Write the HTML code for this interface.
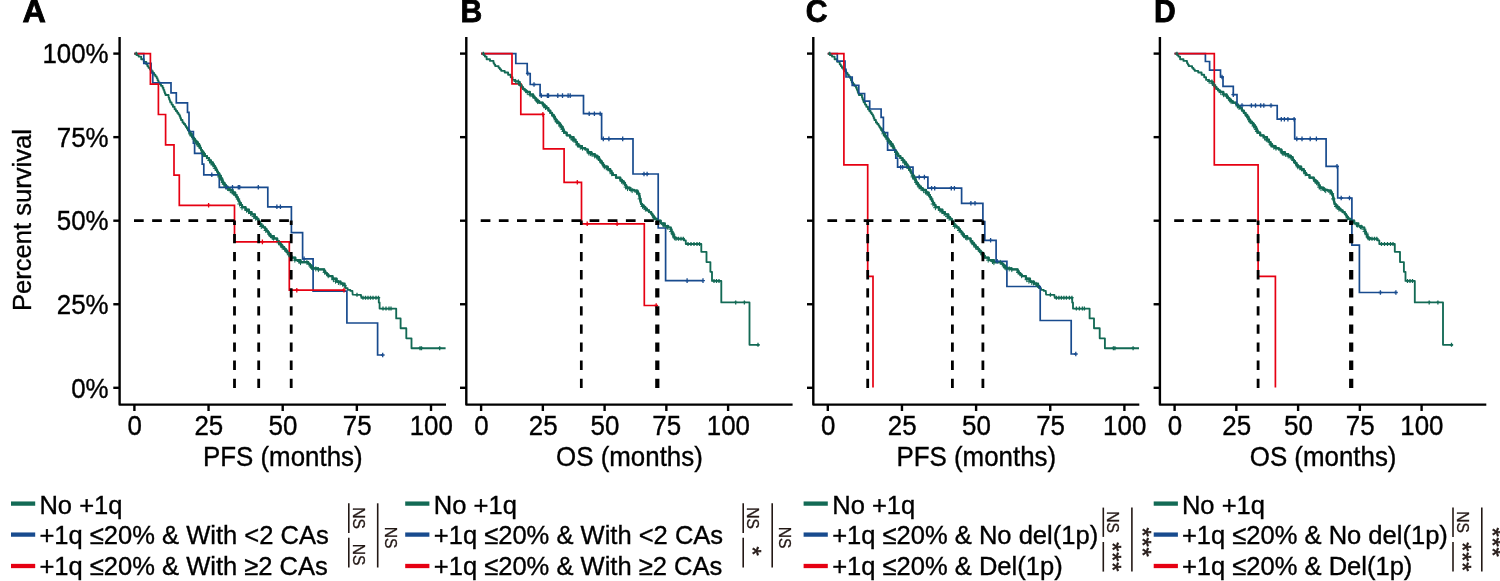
<!DOCTYPE html><html><head><meta charset="utf-8"><style>html,body{margin:0;padding:0;background:#fff;overflow:hidden}svg{display:block;will-change:transform}</style></head><body>
<svg width="1500" height="581" viewBox="0 0 1500 581" font-family='"Liberation Sans", sans-serif'>
<rect width="1500" height="581" fill="#fff"/>
<text transform="translate(22.50,21.50) scale(1.065,1.04)" font-size="30.4" font-weight="bold" fill="#000" stroke="#000" stroke-width="0.8">A</text>
<text transform="translate(460.45,21.50) scale(0.99,1.04)" font-size="30.4" font-weight="bold" fill="#000" stroke="#000" stroke-width="0.8">B</text>
<text transform="translate(805.65,21.50) scale(0.99,1.04)" font-size="30.4" font-weight="bold" fill="#000" stroke="#000" stroke-width="0.8">C</text>
<text transform="translate(1153.90,21.50) scale(0.99,1.04)" font-size="30.4" font-weight="bold" fill="#000" stroke="#000" stroke-width="0.8">D</text>
<path d="M119.6,37.0 V404.6 H446.0" fill="none" stroke="#000" stroke-width="2.4" stroke-linejoin="round"/>
<line x1="113.3" y1="387.80" x2="119.6" y2="387.80" stroke="#000" stroke-width="2.4"/>
<line x1="113.3" y1="304.25" x2="119.6" y2="304.25" stroke="#000" stroke-width="2.4"/>
<line x1="113.3" y1="220.70" x2="119.6" y2="220.70" stroke="#000" stroke-width="2.4"/>
<line x1="113.3" y1="137.15" x2="119.6" y2="137.15" stroke="#000" stroke-width="2.4"/>
<line x1="113.3" y1="53.60" x2="119.6" y2="53.60" stroke="#000" stroke-width="2.4"/>
<line x1="134.40" y1="404.6" x2="134.40" y2="411.0" stroke="#000" stroke-width="2.4"/>
<text transform="translate(134.70,435.10) scale(1.0,1.04)" font-size="25.9" text-anchor="middle" fill="#000" stroke="#000" stroke-width="0.35">0</text>
<line x1="208.55" y1="404.6" x2="208.55" y2="411.0" stroke="#000" stroke-width="2.4"/>
<text transform="translate(208.85,435.10) scale(1.0,1.04)" font-size="25.9" text-anchor="middle" fill="#000" stroke="#000" stroke-width="0.35">25</text>
<line x1="282.70" y1="404.6" x2="282.70" y2="411.0" stroke="#000" stroke-width="2.4"/>
<text transform="translate(283.00,435.10) scale(1.0,1.04)" font-size="25.9" text-anchor="middle" fill="#000" stroke="#000" stroke-width="0.35">50</text>
<line x1="356.85" y1="404.6" x2="356.85" y2="411.0" stroke="#000" stroke-width="2.4"/>
<text transform="translate(357.15,435.10) scale(1.0,1.04)" font-size="25.9" text-anchor="middle" fill="#000" stroke="#000" stroke-width="0.35">75</text>
<line x1="431.00" y1="404.6" x2="431.00" y2="411.0" stroke="#000" stroke-width="2.4"/>
<text transform="translate(431.30,435.10) scale(1.0,1.04)" font-size="25.9" text-anchor="middle" fill="#000" stroke="#000" stroke-width="0.35">100</text>
<text transform="translate(282.80,466.00) scale(1.0,1.04)" font-size="25.9" text-anchor="middle" fill="#000" stroke="#000" stroke-width="0.35">PFS (months)</text>
<path d="M466.3,37.0 V404.6 H792.6" fill="none" stroke="#000" stroke-width="2.4" stroke-linejoin="round"/>
<line x1="460.0" y1="387.80" x2="466.3" y2="387.80" stroke="#000" stroke-width="2.4"/>
<line x1="460.0" y1="304.25" x2="466.3" y2="304.25" stroke="#000" stroke-width="2.4"/>
<line x1="460.0" y1="220.70" x2="466.3" y2="220.70" stroke="#000" stroke-width="2.4"/>
<line x1="460.0" y1="137.15" x2="466.3" y2="137.15" stroke="#000" stroke-width="2.4"/>
<line x1="460.0" y1="53.60" x2="466.3" y2="53.60" stroke="#000" stroke-width="2.4"/>
<line x1="481.10" y1="404.6" x2="481.10" y2="411.0" stroke="#000" stroke-width="2.4"/>
<text transform="translate(481.40,435.10) scale(1.0,1.04)" font-size="25.9" text-anchor="middle" fill="#000" stroke="#000" stroke-width="0.35">0</text>
<line x1="542.85" y1="404.6" x2="542.85" y2="411.0" stroke="#000" stroke-width="2.4"/>
<text transform="translate(543.15,435.10) scale(1.0,1.04)" font-size="25.9" text-anchor="middle" fill="#000" stroke="#000" stroke-width="0.35">25</text>
<line x1="604.60" y1="404.6" x2="604.60" y2="411.0" stroke="#000" stroke-width="2.4"/>
<text transform="translate(604.90,435.10) scale(1.0,1.04)" font-size="25.9" text-anchor="middle" fill="#000" stroke="#000" stroke-width="0.35">50</text>
<line x1="666.35" y1="404.6" x2="666.35" y2="411.0" stroke="#000" stroke-width="2.4"/>
<text transform="translate(666.65,435.10) scale(1.0,1.04)" font-size="25.9" text-anchor="middle" fill="#000" stroke="#000" stroke-width="0.35">75</text>
<line x1="728.10" y1="404.6" x2="728.10" y2="411.0" stroke="#000" stroke-width="2.4"/>
<text transform="translate(728.40,435.10) scale(1.0,1.04)" font-size="25.9" text-anchor="middle" fill="#000" stroke="#000" stroke-width="0.35">100</text>
<text transform="translate(629.45,466.00) scale(1.0,1.04)" font-size="25.9" text-anchor="middle" fill="#000" stroke="#000" stroke-width="0.35">OS (months)</text>
<path d="M813.3,37.0 V404.6 H1139.3" fill="none" stroke="#000" stroke-width="2.4" stroke-linejoin="round"/>
<line x1="807.0" y1="387.80" x2="813.3" y2="387.80" stroke="#000" stroke-width="2.4"/>
<line x1="807.0" y1="304.25" x2="813.3" y2="304.25" stroke="#000" stroke-width="2.4"/>
<line x1="807.0" y1="220.70" x2="813.3" y2="220.70" stroke="#000" stroke-width="2.4"/>
<line x1="807.0" y1="137.15" x2="813.3" y2="137.15" stroke="#000" stroke-width="2.4"/>
<line x1="807.0" y1="53.60" x2="813.3" y2="53.60" stroke="#000" stroke-width="2.4"/>
<line x1="827.80" y1="404.6" x2="827.80" y2="411.0" stroke="#000" stroke-width="2.4"/>
<text transform="translate(828.10,435.10) scale(1.0,1.04)" font-size="25.9" text-anchor="middle" fill="#000" stroke="#000" stroke-width="0.35">0</text>
<line x1="901.95" y1="404.6" x2="901.95" y2="411.0" stroke="#000" stroke-width="2.4"/>
<text transform="translate(902.25,435.10) scale(1.0,1.04)" font-size="25.9" text-anchor="middle" fill="#000" stroke="#000" stroke-width="0.35">25</text>
<line x1="976.10" y1="404.6" x2="976.10" y2="411.0" stroke="#000" stroke-width="2.4"/>
<text transform="translate(976.40,435.10) scale(1.0,1.04)" font-size="25.9" text-anchor="middle" fill="#000" stroke="#000" stroke-width="0.35">50</text>
<line x1="1050.25" y1="404.6" x2="1050.25" y2="411.0" stroke="#000" stroke-width="2.4"/>
<text transform="translate(1050.55,435.10) scale(1.0,1.04)" font-size="25.9" text-anchor="middle" fill="#000" stroke="#000" stroke-width="0.35">75</text>
<line x1="1124.40" y1="404.6" x2="1124.40" y2="411.0" stroke="#000" stroke-width="2.4"/>
<text transform="translate(1124.70,435.10) scale(1.0,1.04)" font-size="25.9" text-anchor="middle" fill="#000" stroke="#000" stroke-width="0.35">100</text>
<text transform="translate(976.30,466.00) scale(1.0,1.04)" font-size="25.9" text-anchor="middle" fill="#000" stroke="#000" stroke-width="0.35">PFS (months)</text>
<path d="M1159.9,37.0 V404.6 H1486.3" fill="none" stroke="#000" stroke-width="2.4" stroke-linejoin="round"/>
<line x1="1153.6" y1="387.80" x2="1159.9" y2="387.80" stroke="#000" stroke-width="2.4"/>
<line x1="1153.6" y1="304.25" x2="1159.9" y2="304.25" stroke="#000" stroke-width="2.4"/>
<line x1="1153.6" y1="220.70" x2="1159.9" y2="220.70" stroke="#000" stroke-width="2.4"/>
<line x1="1153.6" y1="137.15" x2="1159.9" y2="137.15" stroke="#000" stroke-width="2.4"/>
<line x1="1153.6" y1="53.60" x2="1159.9" y2="53.60" stroke="#000" stroke-width="2.4"/>
<line x1="1174.60" y1="404.6" x2="1174.60" y2="411.0" stroke="#000" stroke-width="2.4"/>
<text transform="translate(1174.90,435.10) scale(1.0,1.04)" font-size="25.9" text-anchor="middle" fill="#000" stroke="#000" stroke-width="0.35">0</text>
<line x1="1236.35" y1="404.6" x2="1236.35" y2="411.0" stroke="#000" stroke-width="2.4"/>
<text transform="translate(1236.65,435.10) scale(1.0,1.04)" font-size="25.9" text-anchor="middle" fill="#000" stroke="#000" stroke-width="0.35">25</text>
<line x1="1298.10" y1="404.6" x2="1298.10" y2="411.0" stroke="#000" stroke-width="2.4"/>
<text transform="translate(1298.40,435.10) scale(1.0,1.04)" font-size="25.9" text-anchor="middle" fill="#000" stroke="#000" stroke-width="0.35">50</text>
<line x1="1359.85" y1="404.6" x2="1359.85" y2="411.0" stroke="#000" stroke-width="2.4"/>
<text transform="translate(1360.15,435.10) scale(1.0,1.04)" font-size="25.9" text-anchor="middle" fill="#000" stroke="#000" stroke-width="0.35">75</text>
<line x1="1421.60" y1="404.6" x2="1421.60" y2="411.0" stroke="#000" stroke-width="2.4"/>
<text transform="translate(1421.90,435.10) scale(1.0,1.04)" font-size="25.9" text-anchor="middle" fill="#000" stroke="#000" stroke-width="0.35">100</text>
<text transform="translate(1323.10,466.00) scale(1.0,1.04)" font-size="25.9" text-anchor="middle" fill="#000" stroke="#000" stroke-width="0.35">OS (months)</text>
<text transform="translate(108.60,63.30) scale(1.0,1.04)" font-size="25.9" text-anchor="end" fill="#000" stroke="#000" stroke-width="0.35">100%</text>
<text transform="translate(108.60,146.85) scale(1.0,1.04)" font-size="25.9" text-anchor="end" fill="#000" stroke="#000" stroke-width="0.35">75%</text>
<text transform="translate(108.60,230.40) scale(1.0,1.04)" font-size="25.9" text-anchor="end" fill="#000" stroke="#000" stroke-width="0.35">50%</text>
<text transform="translate(108.60,313.95) scale(1.0,1.04)" font-size="25.9" text-anchor="end" fill="#000" stroke="#000" stroke-width="0.35">25%</text>
<text transform="translate(108.60,397.50) scale(1.0,1.04)" font-size="25.9" text-anchor="end" fill="#000" stroke="#000" stroke-width="0.35">0%</text>
<text transform="translate(31.0,220.1) rotate(-90) scale(1,1.02)" font-size="25.6" text-anchor="middle" fill="#000" stroke="#000" stroke-width="0.35">Percent survival</text>
<path d="M134.40,53.30 L135.20,53.60 L136.90,53.60 L136.90,55.10 L138.60,55.10 L138.60,56.60 L141.20,56.60 L141.20,59.20 L143.80,59.20 L143.80,61.80 L146.30,61.80 L146.30,64.30 L147.40,64.30 L147.40,66.05 L148.50,66.05 L148.50,67.80 L150.00,67.80 L150.00,69.50 L151.50,69.50 L151.50,71.20 L152.80,71.20 L152.80,72.95 L154.10,72.95 L154.10,74.70 L155.40,74.70 L155.40,76.40 L156.70,76.40 L156.70,78.10 L157.55,78.10 L157.55,80.25 L158.40,80.25 L158.40,82.40 L159.70,82.40 L159.70,84.10 L161.00,84.10 L161.00,85.80 L162.60,85.80 L162.60,87.70 L163.45,87.70 L163.45,89.85 L164.30,89.85 L164.30,92.00 L164.90,92.00 L164.90,93.50 L165.50,93.50 L165.50,95.00 L168.60,95.00 L168.60,97.60 L169.17,97.60 L169.17,99.20 L169.73,99.20 L169.73,100.80 L170.30,100.80 L170.30,102.40 L171.60,102.40 L171.60,104.55 L172.90,104.55 L172.90,106.70 L174.60,106.70 L174.60,109.20 L175.90,109.20 L175.90,110.95 L177.20,110.95 L177.20,112.70 L178.35,112.70 L178.35,114.35 L179.50,114.35 L179.50,116.00 L180.25,116.00 L180.25,118.00 L181.00,118.00 L181.00,120.00 L182.50,120.00 L182.50,122.50 L183.80,122.50 L183.80,124.00 L185.10,124.00 L185.10,125.50 L186.00,125.50 L186.00,127.00 L186.90,127.00 L186.90,128.50 L188.10,128.50 L188.10,130.30 L189.30,130.30 L189.30,132.10 L190.50,132.10 L190.50,134.20 L191.70,134.20 L191.70,136.30 L192.90,136.30 L192.90,137.80 L194.10,137.80 L194.10,139.30 L195.15,139.30 L195.15,140.75 L196.20,140.75 L196.20,142.20 L197.70,142.20 L197.70,144.15 L199.20,144.15 L199.20,146.10 L200.07,146.10 L200.07,147.97 L200.93,147.97 L200.93,149.83 L201.80,149.83 L201.80,151.70 L203.30,151.70 L203.30,153.85 L204.80,153.85 L204.80,156.00 L206.95,156.00 L206.95,158.15 L209.10,158.15 L209.10,160.30 L210.90,160.30 L210.90,162.30 L212.70,162.30 L212.70,164.30 L213.95,164.30 L213.95,166.25 L215.20,166.25 L215.20,168.20 L216.13,168.20 L216.13,169.93 L217.07,169.93 L217.07,171.67 L218.00,171.67 L218.00,173.40 L219.30,173.40 L219.30,175.65 L220.60,175.65 L220.60,177.90 L221.47,177.90 L221.47,179.63 L222.33,179.63 L222.33,181.37 L223.20,181.37 L223.20,183.10 L224.50,183.10 L224.50,184.80 L225.80,184.80 L225.80,186.50 L227.50,186.50 L227.50,188.20 L229.20,188.20 L229.20,189.90 L232.60,189.90 L232.60,192.50 L235.20,192.50 L235.20,195.10 L236.50,195.10 L236.50,197.25 L237.80,197.25 L237.80,199.40 L238.65,199.40 L238.65,201.10 L239.50,201.10 L239.50,202.80 L240.80,202.80 L240.80,205.00 L242.10,205.00 L242.10,207.20 L245.50,207.20 L245.50,209.70 L249.00,209.70 L249.00,212.00 L251.50,212.00 L251.50,214.30 L254.90,214.30 L254.90,217.00 L256.60,217.00 L256.60,218.75 L258.30,218.75 L258.30,220.50 L259.17,220.50 L259.17,222.20 L260.03,222.20 L260.03,223.90 L260.90,223.90 L260.90,225.60 L263.05,225.60 L263.05,227.35 L265.20,227.35 L265.20,229.10 L266.50,229.10 L266.50,230.80 L267.80,230.80 L267.80,232.50 L269.10,232.50 L269.10,234.25 L270.40,234.25 L270.40,236.00 L273.80,236.00 L273.80,238.50 L277.20,238.50 L277.20,241.10 L278.95,241.10 L278.95,243.25 L280.70,243.25 L280.70,245.40 L282.40,245.40 L282.40,247.15 L284.10,247.15 L284.10,248.90 L285.60,248.90 L285.60,250.70 L287.10,250.70 L287.10,252.50 L289.10,252.50 L289.10,253.60 L290.15,253.60 L290.15,255.60 L291.20,255.60 L291.20,257.60 L295.30,257.60 L295.30,260.10 L300.50,260.10 L300.50,262.20 L306.70,262.20 L308.25,262.20 L308.25,263.75 L309.80,263.75 L309.80,265.30 L311.35,265.30 L311.35,266.85 L312.90,266.85 L312.90,268.40 L318.00,268.40 L318.00,269.40 L323.20,269.40 L324.25,269.40 L324.25,271.20 L325.30,271.20 L325.30,273.00 L326.85,273.00 L326.85,274.55 L328.40,274.55 L328.40,276.10 L332.50,276.10 L332.50,278.70 L336.60,278.70 L336.60,281.30 L340.80,281.30 L340.80,283.40 L344.80,283.40 L344.80,285.30 L345.50,285.30 L345.50,288.10 L347.60,288.10 L347.60,289.80 L350.30,289.80 L350.30,290.80 L352.40,290.80 L352.40,291.50 L352.70,294.60 L360.70,294.80 L361.00,294.80 L361.00,296.25 L361.30,296.25 L361.30,297.70 H378.8 V302.5 H379.6 V308.6 H396.2 V318.4 H400.6 V328.2 H406.3 V338.3 H411.5 V348.2 H445.6" fill="none" stroke="#136a55" stroke-width="1.85" stroke-linejoin="round"/>
<path d="M186.90,128.50 L188.10,128.50 L188.10,130.30 L189.30,130.30 L189.30,132.10 L190.50,132.10 L190.50,134.20 L191.70,134.20 L191.70,136.30 L192.90,136.30 L192.90,137.80 L194.10,137.80 L194.10,139.30 L195.15,139.30 L195.15,140.75 L196.20,140.75 L196.20,142.20 L197.70,142.20 L197.70,144.15 L199.20,144.15 L199.20,146.10 L200.07,146.10 L200.07,147.97 L200.93,147.97 L200.93,149.83 L201.80,149.83 L201.80,151.70 L203.30,151.70 L203.30,153.85 L204.80,153.85 L204.80,156.00 L206.95,156.00 L206.95,158.15 L209.10,158.15 L209.10,160.30 L210.90,160.30 L210.90,162.30 L212.70,162.30 L212.70,164.30 L213.95,164.30 L213.95,166.25 L215.20,166.25 L215.20,168.20 L216.13,168.20 L216.13,169.93 L217.07,169.93 L217.07,171.67 L218.00,171.67 L218.00,173.40 L219.30,173.40 L219.30,175.65 L220.60,175.65 L220.60,177.90 L221.47,177.90 L221.47,179.63 L222.33,179.63 L222.33,181.37 L223.20,181.37 L223.20,183.10 L224.50,183.10 L224.50,184.80 L225.80,184.80 L225.80,186.50 L227.50,186.50 L227.50,188.20 L229.20,188.20 L229.20,189.90 L232.60,189.90 L232.60,192.50 L235.20,192.50 L235.20,195.10 L236.50,195.10 L236.50,197.25 L237.80,197.25 L237.80,199.40 L238.65,199.40 L238.65,201.10 L239.50,201.10 L239.50,202.80 L240.80,202.80 L240.80,205.00 L242.10,205.00 L242.10,207.20 L245.50,207.20 L245.50,209.70 L249.00,209.70 L249.00,212.00 L251.50,212.00 L251.50,214.30 L254.90,214.30 L254.90,217.00 L256.60,217.00 L256.60,218.75 L258.30,218.75 L258.30,220.50 L259.17,220.50 L259.17,222.20 L260.03,222.20 L260.03,223.90 L260.90,223.90 L260.90,225.60 L263.05,225.60 L263.05,227.35 L265.20,227.35 L265.20,229.10 L266.50,229.10 L266.50,230.80 L267.80,230.80 L267.80,232.50 L269.10,232.50 L269.10,234.25 L270.40,234.25 L270.40,236.00 L273.80,236.00 L273.80,238.50 L277.20,238.50 L277.20,241.10 L278.95,241.10 L278.95,243.25 L280.70,243.25 L280.70,245.40 L282.40,245.40 L282.40,247.15 L284.10,247.15 L284.10,248.90 L285.60,248.90 L285.60,250.70 L287.10,250.70 L287.10,252.50 L289.10,252.50 L289.10,253.60 L290.15,253.60 L290.15,255.60 L291.20,255.60 L291.20,257.60 L295.30,257.60 L295.30,260.10 L300.50,260.10 L300.50,262.20 L306.70,262.20 L308.25,262.20 L308.25,263.75 L309.80,263.75 L309.80,265.30 L311.35,265.30 L311.35,266.85 L312.90,266.85 L312.90,268.40 L318.00,268.40 L318.00,269.40 L323.20,269.40 L324.25,269.40 L324.25,271.20 L325.30,271.20 L325.30,273.00 L326.85,273.00 L326.85,274.55 L328.40,274.55 L328.40,276.10 L332.50,276.10 L332.50,278.70 L336.60,278.70 L336.60,281.30" fill="none" stroke="#136a55" stroke-width="2.2" stroke-linejoin="round"/>
<path d="M134.4,53.6 H143.8 V63.3 H151.1 V73 H152.8 V82.8 H171 V92.9 H176.3 V102.8 H187.5 V112.4 H189 V131.5 H193.4 V143.2 H194.6 V153.4 H202.2 V164.1 H203.8 V174.8 H219.3 V187.3 H267.8 V206.8 H291.4 V232.7 H302.6 V258.8 H313.1 V291.1 H346.9 V323 H377.6 V355 H382.7" fill="none" stroke="#184b8e" stroke-width="1.7"/>
<path d="M134.4,53.6 H150.4 V84.1 H158.4 V114.5 H165.6 V144.8 H174.0 V175.2 H179.3 V205.3 H234.5 V241.9 H289.3 V290.2 H344.0" fill="none" stroke="#e60012" stroke-width="1.7"/>
<path d="M481.10,53.30 L483.20,53.60 L484.05,53.60 L484.05,55.10 L484.90,55.10 L484.90,56.60 L486.60,56.60 L486.60,59.20 L490.00,59.20 L490.00,60.90 L493.50,60.90 L493.50,63.10 L494.35,63.10 L494.35,64.60 L495.20,64.60 L495.20,66.10 L498.60,66.10 L498.60,67.80 L499.90,67.80 L499.90,69.30 L501.20,69.30 L501.20,70.80 L504.70,70.80 L504.70,72.50 L508.10,72.50 L508.10,74.70 L510.70,74.70 L510.70,77.20 L512.60,77.20 L512.60,79.90 L515.20,79.90 L515.20,81.20 L518.60,81.20 L518.60,82.00 L519.45,82.00 L519.45,83.75 L520.30,83.75 L520.30,85.50 L521.60,85.50 L521.60,87.20 L522.90,87.20 L522.90,88.90 L524.60,88.90 L524.60,90.40 L526.30,90.40 L526.30,91.90 L529.80,91.90 L529.80,94.50 L533.20,94.50 L533.20,96.70 L534.50,96.70 L534.50,98.20 L535.80,98.20 L535.80,99.70 L537.50,99.70 L537.50,101.20 L539.20,101.20 L539.20,102.70 L542.70,102.70 L542.70,104.60 L544.60,104.60 L544.60,106.40 L546.50,106.40 L546.50,108.20 L548.40,108.20 L548.40,110.55 L550.30,110.55 L550.30,112.90 L552.05,112.90 L552.05,115.05 L553.80,115.05 L553.80,117.20 L555.05,117.20 L555.05,119.35 L556.30,119.35 L556.30,121.50 L558.05,121.50 L558.05,123.20 L559.80,123.20 L559.80,124.90 L561.10,124.90 L561.10,126.65 L562.40,126.65 L562.40,128.40 L563.25,128.40 L563.25,130.55 L564.10,130.55 L564.10,132.70 L566.70,132.70 L566.70,135.30 L570.10,135.30 L570.10,137.00 L573.50,137.00 L573.50,139.60 L575.50,139.60 L575.50,142.00 L576.95,142.00 L576.95,144.00 L578.40,144.00 L578.40,146.00 L581.90,146.00 L581.90,148.20 L585.30,148.20 L585.30,149.50 L587.90,149.50 L587.90,152.00 L591.30,152.00 L591.30,154.20 L594.80,154.20 L594.80,155.90 L597.40,155.90 L597.40,157.20 L599.10,157.20 L599.10,159.80 L600.40,159.80 L600.40,161.50 L601.70,161.50 L601.70,163.20 L602.95,163.20 L602.95,164.95 L604.20,164.95 L604.20,166.70 L607.70,166.70 L607.70,169.20 L610.30,169.20 L610.30,171.00 L611.50,171.00 L611.50,173.00 L612.70,173.00 L612.70,175.00 L616.00,175.00 L616.00,177.70 L620.30,177.70 L620.30,179.90 L622.05,179.90 L622.05,181.40 L623.80,181.40 L623.80,182.90 L625.05,182.90 L625.05,185.25 L626.30,185.25 L626.30,187.60 L629.80,187.60 L629.80,189.80 L634.10,189.80 L634.10,190.60 L637.50,190.60 L637.50,192.40 L638.35,192.40 L638.35,194.10 L639.20,194.10 L639.20,195.80 L639.65,195.80 L639.65,197.95 L640.10,197.95 L640.10,200.10 L640.55,200.10 L640.55,202.05 L641.00,202.05 L641.00,204.00 L642.20,204.00 L642.20,205.45 L643.40,205.45 L643.40,206.90 L645.15,206.90 L645.15,208.60 L646.90,208.60 L646.90,210.30 L649.05,210.30 L649.05,212.05 L651.20,212.05 L651.20,213.80 L652.33,213.80 L652.33,215.50 L653.47,215.50 L653.47,217.20 L654.60,217.20 L654.60,218.90 L657.20,218.90 L657.20,220.70 L660.70,220.70 L660.70,223.20 L665.00,223.20 L665.00,225.80 L668.40,225.80 L668.40,227.50 L671.00,227.50 L671.00,230.10 L671.85,230.10 L671.85,232.25 L672.70,232.25 L672.70,234.40 L673.55,234.40 L673.55,236.15 L674.40,236.15 L674.40,237.90 L677.00,237.90 L677.00,238.70 H684 V240.4 H685.8 V244 H701.3 V251.8 H706.5 V262.1 H710.4 V271.8 H712 V280.9 H721.3 V302.4 H749.5 V344.8 H759.5" fill="none" stroke="#136a55" stroke-width="1.85" stroke-linejoin="round"/>
<path d="M518.60,82.00 L519.45,82.00 L519.45,83.75 L520.30,83.75 L520.30,85.50 L521.60,85.50 L521.60,87.20 L522.90,87.20 L522.90,88.90 L524.60,88.90 L524.60,90.40 L526.30,90.40 L526.30,91.90 L529.80,91.90 L529.80,94.50 L533.20,94.50 L533.20,96.70 L534.50,96.70 L534.50,98.20 L535.80,98.20 L535.80,99.70 L537.50,99.70 L537.50,101.20 L539.20,101.20 L539.20,102.70 L542.70,102.70 L542.70,104.60 L544.60,104.60 L544.60,106.40 L546.50,106.40 L546.50,108.20 L548.40,108.20 L548.40,110.55 L550.30,110.55 L550.30,112.90 L552.05,112.90 L552.05,115.05 L553.80,115.05 L553.80,117.20 L555.05,117.20 L555.05,119.35 L556.30,119.35 L556.30,121.50 L558.05,121.50 L558.05,123.20 L559.80,123.20 L559.80,124.90 L561.10,124.90 L561.10,126.65 L562.40,126.65 L562.40,128.40 L563.25,128.40 L563.25,130.55 L564.10,130.55 L564.10,132.70 L566.70,132.70 L566.70,135.30 L570.10,135.30 L570.10,137.00 L573.50,137.00 L573.50,139.60 L575.50,139.60 L575.50,142.00 L576.95,142.00 L576.95,144.00 L578.40,144.00 L578.40,146.00 L581.90,146.00 L581.90,148.20 L585.30,148.20 L585.30,149.50 L587.90,149.50 L587.90,152.00 L591.30,152.00 L591.30,154.20 L594.80,154.20 L594.80,155.90 L597.40,155.90 L597.40,157.20 L599.10,157.20 L599.10,159.80 L600.40,159.80 L600.40,161.50 L601.70,161.50 L601.70,163.20 L602.95,163.20 L602.95,164.95 L604.20,164.95 L604.20,166.70 L607.70,166.70 L607.70,169.20 L610.30,169.20 L610.30,171.00 L611.50,171.00 L611.50,173.00 L612.70,173.00 L612.70,175.00 L616.00,175.00 L616.00,177.70 L620.30,177.70 L620.30,179.90 L622.05,179.90 L622.05,181.40 L623.80,181.40 L623.80,182.90 L625.05,182.90 L625.05,185.25 L626.30,185.25 L626.30,187.60 L629.80,187.60 L629.80,189.80 L634.10,189.80 L634.10,190.60 L637.50,190.60 L637.50,192.40 L638.35,192.40 L638.35,194.10 L639.20,194.10 L639.20,195.80 L639.65,195.80 L639.65,197.95 L640.10,197.95 L640.10,200.10 L640.55,200.10 L640.55,202.05 L641.00,202.05 L641.00,204.00 L642.20,204.00 L642.20,205.45 L643.40,205.45 L643.40,206.90 L645.15,206.90 L645.15,208.60 L646.90,208.60 L646.90,210.30 L649.05,210.30 L649.05,212.05 L651.20,212.05 L651.20,213.80 L652.33,213.80 L652.33,215.50 L653.47,215.50 L653.47,217.20 L654.60,217.20 L654.60,218.90 L657.20,218.90 L657.20,220.70 L660.70,220.70 L660.70,223.20" fill="none" stroke="#136a55" stroke-width="2.2" stroke-linejoin="round"/>
<path d="M481.1,53.6 H515.8 V63.5 H527.2 V73.5 H530.2 V84.5 H540.1 V95.6 H583.5 V113.7 H601.6 V138.9 H633 V174 H658.2 V228 H665.6 V280.6 H703" fill="none" stroke="#184b8e" stroke-width="1.7"/>
<path d="M481.1,53.6 H512 V83.8 H520.8 V114.4 H543.4 V148.8 H564.1 V182.3 H581.5 V223.8 H644.3 V305.5 H656.2" fill="none" stroke="#e60012" stroke-width="1.7"/>
<path d="M827.80,53.30 L828.60,53.60 L830.30,53.60 L830.30,55.10 L832.00,55.10 L832.00,56.60 L834.60,56.60 L834.60,59.20 L837.20,59.20 L837.20,61.80 L839.70,61.80 L839.70,64.30 L840.80,64.30 L840.80,66.05 L841.90,66.05 L841.90,67.80 L843.40,67.80 L843.40,69.50 L844.90,69.50 L844.90,71.20 L846.20,71.20 L846.20,72.95 L847.50,72.95 L847.50,74.70 L848.80,74.70 L848.80,76.40 L850.10,76.40 L850.10,78.10 L850.95,78.10 L850.95,80.25 L851.80,80.25 L851.80,82.40 L853.10,82.40 L853.10,84.10 L854.40,84.10 L854.40,85.80 L856.00,85.80 L856.00,87.70 L856.85,87.70 L856.85,89.85 L857.70,89.85 L857.70,92.00 L858.30,92.00 L858.30,93.50 L858.90,93.50 L858.90,95.00 L862.00,95.00 L862.00,97.60 L862.57,97.60 L862.57,99.20 L863.13,99.20 L863.13,100.80 L863.70,100.80 L863.70,102.40 L865.00,102.40 L865.00,104.55 L866.30,104.55 L866.30,106.70 L868.00,106.70 L868.00,109.20 L869.30,109.20 L869.30,110.95 L870.60,110.95 L870.60,112.70 L871.75,112.70 L871.75,114.35 L872.90,114.35 L872.90,116.00 L873.65,116.00 L873.65,118.00 L874.40,118.00 L874.40,120.00 L875.90,120.00 L875.90,122.50 L877.20,122.50 L877.20,124.00 L878.50,124.00 L878.50,125.50 L879.40,125.50 L879.40,127.00 L880.30,127.00 L880.30,128.50 L881.50,128.50 L881.50,130.30 L882.70,130.30 L882.70,132.10 L883.90,132.10 L883.90,134.20 L885.10,134.20 L885.10,136.30 L886.30,136.30 L886.30,137.80 L887.50,137.80 L887.50,139.30 L888.55,139.30 L888.55,140.75 L889.60,140.75 L889.60,142.20 L891.10,142.20 L891.10,144.15 L892.60,144.15 L892.60,146.10 L893.47,146.10 L893.47,147.97 L894.33,147.97 L894.33,149.83 L895.20,149.83 L895.20,151.70 L896.70,151.70 L896.70,153.85 L898.20,153.85 L898.20,156.00 L900.35,156.00 L900.35,158.15 L902.50,158.15 L902.50,160.30 L904.30,160.30 L904.30,162.30 L906.10,162.30 L906.10,164.30 L907.35,164.30 L907.35,166.25 L908.60,166.25 L908.60,168.20 L909.53,168.20 L909.53,169.93 L910.47,169.93 L910.47,171.67 L911.40,171.67 L911.40,173.40 L912.70,173.40 L912.70,175.65 L914.00,175.65 L914.00,177.90 L914.87,177.90 L914.87,179.63 L915.73,179.63 L915.73,181.37 L916.60,181.37 L916.60,183.10 L917.90,183.10 L917.90,184.80 L919.20,184.80 L919.20,186.50 L920.90,186.50 L920.90,188.20 L922.60,188.20 L922.60,189.90 L926.00,189.90 L926.00,192.50 L928.60,192.50 L928.60,195.10 L929.90,195.10 L929.90,197.25 L931.20,197.25 L931.20,199.40 L932.05,199.40 L932.05,201.10 L932.90,201.10 L932.90,202.80 L934.20,202.80 L934.20,205.00 L935.50,205.00 L935.50,207.20 L938.90,207.20 L938.90,209.70 L942.40,209.70 L942.40,212.00 L944.90,212.00 L944.90,214.30 L948.30,214.30 L948.30,217.00 L950.00,217.00 L950.00,218.75 L951.70,218.75 L951.70,220.50 L952.57,220.50 L952.57,222.20 L953.43,222.20 L953.43,223.90 L954.30,223.90 L954.30,225.60 L956.45,225.60 L956.45,227.35 L958.60,227.35 L958.60,229.10 L959.90,229.10 L959.90,230.80 L961.20,230.80 L961.20,232.50 L962.50,232.50 L962.50,234.25 L963.80,234.25 L963.80,236.00 L967.20,236.00 L967.20,238.50 L970.60,238.50 L970.60,241.10 L972.35,241.10 L972.35,243.25 L974.10,243.25 L974.10,245.40 L975.80,245.40 L975.80,247.15 L977.50,247.15 L977.50,248.90 L979.00,248.90 L979.00,250.70 L980.50,250.70 L980.50,252.50 L982.50,252.50 L982.50,253.60 L983.55,253.60 L983.55,255.60 L984.60,255.60 L984.60,257.60 L988.70,257.60 L988.70,260.10 L993.90,260.10 L993.90,262.20 L1000.10,262.20 L1001.65,262.20 L1001.65,263.75 L1003.20,263.75 L1003.20,265.30 L1004.75,265.30 L1004.75,266.85 L1006.30,266.85 L1006.30,268.40 L1011.40,268.40 L1011.40,269.40 L1016.60,269.40 L1017.65,269.40 L1017.65,271.20 L1018.70,271.20 L1018.70,273.00 L1020.25,273.00 L1020.25,274.55 L1021.80,274.55 L1021.80,276.10 L1025.90,276.10 L1025.90,278.70 L1030.00,278.70 L1030.00,281.30 L1034.20,281.30 L1034.20,283.40 L1038.20,283.40 L1038.20,285.30 L1038.90,285.30 L1038.90,288.10 L1041.00,288.10 L1041.00,289.80 L1043.70,289.80 L1043.70,290.80 L1045.80,290.80 L1045.80,291.50 L1046.10,294.60 L1054.10,294.80 L1054.40,294.80 L1054.40,296.25 L1054.70,296.25 L1054.70,297.70 H1072.2 V302.5 H1073.0 V308.6 H1089.6 V318.4 H1094.0 V328.2 H1099.7 V338.3 H1104.9 V348.2 H1139.0" fill="none" stroke="#136a55" stroke-width="1.85" stroke-linejoin="round"/>
<path d="M880.30,128.50 L881.50,128.50 L881.50,130.30 L882.70,130.30 L882.70,132.10 L883.90,132.10 L883.90,134.20 L885.10,134.20 L885.10,136.30 L886.30,136.30 L886.30,137.80 L887.50,137.80 L887.50,139.30 L888.55,139.30 L888.55,140.75 L889.60,140.75 L889.60,142.20 L891.10,142.20 L891.10,144.15 L892.60,144.15 L892.60,146.10 L893.47,146.10 L893.47,147.97 L894.33,147.97 L894.33,149.83 L895.20,149.83 L895.20,151.70 L896.70,151.70 L896.70,153.85 L898.20,153.85 L898.20,156.00 L900.35,156.00 L900.35,158.15 L902.50,158.15 L902.50,160.30 L904.30,160.30 L904.30,162.30 L906.10,162.30 L906.10,164.30 L907.35,164.30 L907.35,166.25 L908.60,166.25 L908.60,168.20 L909.53,168.20 L909.53,169.93 L910.47,169.93 L910.47,171.67 L911.40,171.67 L911.40,173.40 L912.70,173.40 L912.70,175.65 L914.00,175.65 L914.00,177.90 L914.87,177.90 L914.87,179.63 L915.73,179.63 L915.73,181.37 L916.60,181.37 L916.60,183.10 L917.90,183.10 L917.90,184.80 L919.20,184.80 L919.20,186.50 L920.90,186.50 L920.90,188.20 L922.60,188.20 L922.60,189.90 L926.00,189.90 L926.00,192.50 L928.60,192.50 L928.60,195.10 L929.90,195.10 L929.90,197.25 L931.20,197.25 L931.20,199.40 L932.05,199.40 L932.05,201.10 L932.90,201.10 L932.90,202.80 L934.20,202.80 L934.20,205.00 L935.50,205.00 L935.50,207.20 L938.90,207.20 L938.90,209.70 L942.40,209.70 L942.40,212.00 L944.90,212.00 L944.90,214.30 L948.30,214.30 L948.30,217.00 L950.00,217.00 L950.00,218.75 L951.70,218.75 L951.70,220.50 L952.57,220.50 L952.57,222.20 L953.43,222.20 L953.43,223.90 L954.30,223.90 L954.30,225.60 L956.45,225.60 L956.45,227.35 L958.60,227.35 L958.60,229.10 L959.90,229.10 L959.90,230.80 L961.20,230.80 L961.20,232.50 L962.50,232.50 L962.50,234.25 L963.80,234.25 L963.80,236.00 L967.20,236.00 L967.20,238.50 L970.60,238.50 L970.60,241.10 L972.35,241.10 L972.35,243.25 L974.10,243.25 L974.10,245.40 L975.80,245.40 L975.80,247.15 L977.50,247.15 L977.50,248.90 L979.00,248.90 L979.00,250.70 L980.50,250.70 L980.50,252.50 L982.50,252.50 L982.50,253.60 L983.55,253.60 L983.55,255.60 L984.60,255.60 L984.60,257.60 L988.70,257.60 L988.70,260.10 L993.90,260.10 L993.90,262.20 L1000.10,262.20 L1001.65,262.20 L1001.65,263.75 L1003.20,263.75 L1003.20,265.30 L1004.75,265.30 L1004.75,266.85 L1006.30,266.85 L1006.30,268.40 L1011.40,268.40 L1011.40,269.40 L1016.60,269.40 L1017.65,269.40 L1017.65,271.20 L1018.70,271.20 L1018.70,273.00 L1020.25,273.00 L1020.25,274.55 L1021.80,274.55 L1021.80,276.10 L1025.90,276.10 L1025.90,278.70 L1030.00,278.70 L1030.00,281.30" fill="none" stroke="#136a55" stroke-width="2.2" stroke-linejoin="round"/>
<path d="M827.8,53.6 H837.3 V61.1 H845 V69.4 H846 V77 H852.2 V85.3 H858.8 V93.5 H864.6 V101.2 H869.7 V109 H881.1 V117.3 H883.4 V132.6 H887.6 V150.2 H895.8 V158.2 H897.6 V167.2 H913 V177.1 H927.9 V188.2 H961.6 V203.3 H982.9 V221.7 H984.8 V240.3 H996.1 V261.3 H1006.9 V286.5 H1040.2 V320.5 H1071.2 V354 H1075.8" fill="none" stroke="#184b8e" stroke-width="1.7"/>
<path d="M827.8,53.6 H843.9 V164.8 H867.7 V276.4 H873.0 V387.6" fill="none" stroke="#e60012" stroke-width="1.7"/>
<path d="M1174.60,53.30 L1176.70,53.60 L1177.55,53.60 L1177.55,55.10 L1178.40,55.10 L1178.40,56.60 L1180.10,56.60 L1180.10,59.20 L1183.50,59.20 L1183.50,60.90 L1187.00,60.90 L1187.00,63.10 L1187.85,63.10 L1187.85,64.60 L1188.70,64.60 L1188.70,66.10 L1192.10,66.10 L1192.10,67.80 L1193.40,67.80 L1193.40,69.30 L1194.70,69.30 L1194.70,70.80 L1198.20,70.80 L1198.20,72.50 L1201.60,72.50 L1201.60,74.70 L1204.20,74.70 L1204.20,77.20 L1206.10,77.20 L1206.10,79.90 L1208.70,79.90 L1208.70,81.20 L1212.10,81.20 L1212.10,82.00 L1212.95,82.00 L1212.95,83.75 L1213.80,83.75 L1213.80,85.50 L1215.10,85.50 L1215.10,87.20 L1216.40,87.20 L1216.40,88.90 L1218.10,88.90 L1218.10,90.40 L1219.80,90.40 L1219.80,91.90 L1223.30,91.90 L1223.30,94.50 L1226.70,94.50 L1226.70,96.70 L1228.00,96.70 L1228.00,98.20 L1229.30,98.20 L1229.30,99.70 L1231.00,99.70 L1231.00,101.20 L1232.70,101.20 L1232.70,102.70 L1236.20,102.70 L1236.20,104.60 L1238.10,104.60 L1238.10,106.40 L1240.00,106.40 L1240.00,108.20 L1241.90,108.20 L1241.90,110.55 L1243.80,110.55 L1243.80,112.90 L1245.55,112.90 L1245.55,115.05 L1247.30,115.05 L1247.30,117.20 L1248.55,117.20 L1248.55,119.35 L1249.80,119.35 L1249.80,121.50 L1251.55,121.50 L1251.55,123.20 L1253.30,123.20 L1253.30,124.90 L1254.60,124.90 L1254.60,126.65 L1255.90,126.65 L1255.90,128.40 L1256.75,128.40 L1256.75,130.55 L1257.60,130.55 L1257.60,132.70 L1260.20,132.70 L1260.20,135.30 L1263.60,135.30 L1263.60,137.00 L1267.00,137.00 L1267.00,139.60 L1269.00,139.60 L1269.00,142.00 L1270.45,142.00 L1270.45,144.00 L1271.90,144.00 L1271.90,146.00 L1275.40,146.00 L1275.40,148.20 L1278.80,148.20 L1278.80,149.50 L1281.40,149.50 L1281.40,152.00 L1284.80,152.00 L1284.80,154.20 L1288.30,154.20 L1288.30,155.90 L1290.90,155.90 L1290.90,157.20 L1292.60,157.20 L1292.60,159.80 L1293.90,159.80 L1293.90,161.50 L1295.20,161.50 L1295.20,163.20 L1296.45,163.20 L1296.45,164.95 L1297.70,164.95 L1297.70,166.70 L1301.20,166.70 L1301.20,169.20 L1303.80,169.20 L1303.80,171.00 L1305.00,171.00 L1305.00,173.00 L1306.20,173.00 L1306.20,175.00 L1309.50,175.00 L1309.50,177.70 L1313.80,177.70 L1313.80,179.90 L1315.55,179.90 L1315.55,181.40 L1317.30,181.40 L1317.30,182.90 L1318.55,182.90 L1318.55,185.25 L1319.80,185.25 L1319.80,187.60 L1323.30,187.60 L1323.30,189.80 L1327.60,189.80 L1327.60,190.60 L1331.00,190.60 L1331.00,192.40 L1331.85,192.40 L1331.85,194.10 L1332.70,194.10 L1332.70,195.80 L1333.15,195.80 L1333.15,197.95 L1333.60,197.95 L1333.60,200.10 L1334.05,200.10 L1334.05,202.05 L1334.50,202.05 L1334.50,204.00 L1335.70,204.00 L1335.70,205.45 L1336.90,205.45 L1336.90,206.90 L1338.65,206.90 L1338.65,208.60 L1340.40,208.60 L1340.40,210.30 L1342.55,210.30 L1342.55,212.05 L1344.70,212.05 L1344.70,213.80 L1345.83,213.80 L1345.83,215.50 L1346.97,215.50 L1346.97,217.20 L1348.10,217.20 L1348.10,218.90 L1350.70,218.90 L1350.70,220.70 L1354.20,220.70 L1354.20,223.20 L1358.50,223.20 L1358.50,225.80 L1361.90,225.80 L1361.90,227.50 L1364.50,227.50 L1364.50,230.10 L1365.35,230.10 L1365.35,232.25 L1366.20,232.25 L1366.20,234.40 L1367.05,234.40 L1367.05,236.15 L1367.90,236.15 L1367.90,237.90 L1370.50,237.90 L1370.50,238.70 H1377.5 V240.4 H1379.3 V244 H1394.8 V251.8 H1400.0 V262.1 H1403.9 V271.8 H1405.5 V280.9 H1414.8 V302.4 H1443.0 V344.8 H1453.0" fill="none" stroke="#136a55" stroke-width="1.85" stroke-linejoin="round"/>
<path d="M1212.10,82.00 L1212.95,82.00 L1212.95,83.75 L1213.80,83.75 L1213.80,85.50 L1215.10,85.50 L1215.10,87.20 L1216.40,87.20 L1216.40,88.90 L1218.10,88.90 L1218.10,90.40 L1219.80,90.40 L1219.80,91.90 L1223.30,91.90 L1223.30,94.50 L1226.70,94.50 L1226.70,96.70 L1228.00,96.70 L1228.00,98.20 L1229.30,98.20 L1229.30,99.70 L1231.00,99.70 L1231.00,101.20 L1232.70,101.20 L1232.70,102.70 L1236.20,102.70 L1236.20,104.60 L1238.10,104.60 L1238.10,106.40 L1240.00,106.40 L1240.00,108.20 L1241.90,108.20 L1241.90,110.55 L1243.80,110.55 L1243.80,112.90 L1245.55,112.90 L1245.55,115.05 L1247.30,115.05 L1247.30,117.20 L1248.55,117.20 L1248.55,119.35 L1249.80,119.35 L1249.80,121.50 L1251.55,121.50 L1251.55,123.20 L1253.30,123.20 L1253.30,124.90 L1254.60,124.90 L1254.60,126.65 L1255.90,126.65 L1255.90,128.40 L1256.75,128.40 L1256.75,130.55 L1257.60,130.55 L1257.60,132.70 L1260.20,132.70 L1260.20,135.30 L1263.60,135.30 L1263.60,137.00 L1267.00,137.00 L1267.00,139.60 L1269.00,139.60 L1269.00,142.00 L1270.45,142.00 L1270.45,144.00 L1271.90,144.00 L1271.90,146.00 L1275.40,146.00 L1275.40,148.20 L1278.80,148.20 L1278.80,149.50 L1281.40,149.50 L1281.40,152.00 L1284.80,152.00 L1284.80,154.20 L1288.30,154.20 L1288.30,155.90 L1290.90,155.90 L1290.90,157.20 L1292.60,157.20 L1292.60,159.80 L1293.90,159.80 L1293.90,161.50 L1295.20,161.50 L1295.20,163.20 L1296.45,163.20 L1296.45,164.95 L1297.70,164.95 L1297.70,166.70 L1301.20,166.70 L1301.20,169.20 L1303.80,169.20 L1303.80,171.00 L1305.00,171.00 L1305.00,173.00 L1306.20,173.00 L1306.20,175.00 L1309.50,175.00 L1309.50,177.70 L1313.80,177.70 L1313.80,179.90 L1315.55,179.90 L1315.55,181.40 L1317.30,181.40 L1317.30,182.90 L1318.55,182.90 L1318.55,185.25 L1319.80,185.25 L1319.80,187.60 L1323.30,187.60 L1323.30,189.80 L1327.60,189.80 L1327.60,190.60 L1331.00,190.60 L1331.00,192.40 L1331.85,192.40 L1331.85,194.10 L1332.70,194.10 L1332.70,195.80 L1333.15,195.80 L1333.15,197.95 L1333.60,197.95 L1333.60,200.10 L1334.05,200.10 L1334.05,202.05 L1334.50,202.05 L1334.50,204.00 L1335.70,204.00 L1335.70,205.45 L1336.90,205.45 L1336.90,206.90 L1338.65,206.90 L1338.65,208.60 L1340.40,208.60 L1340.40,210.30 L1342.55,210.30 L1342.55,212.05 L1344.70,212.05 L1344.70,213.80 L1345.83,213.80 L1345.83,215.50 L1346.97,215.50 L1346.97,217.20 L1348.10,217.20 L1348.10,218.90 L1350.70,218.90 L1350.70,220.70 L1354.20,220.70 L1354.20,223.20" fill="none" stroke="#136a55" stroke-width="2.2" stroke-linejoin="round"/>
<path d="M1174.6,53.6 H1205.4 V61.5 H1209.6 V70.2 H1220.5 V77 H1223 V86.3 H1233.3 V94.6 H1237 V105.5 H1277.2 V119.2 H1294.7 V138.9 H1326.1 V166.3 H1337.7 V198 H1351.9 V245.1 H1359.4 V292.5 H1395.9" fill="none" stroke="#184b8e" stroke-width="1.7"/>
<path d="M1174.6,53.6 H1214.3 V164.9 H1258.1 V276.3 H1275.4 V387.6" fill="none" stroke="#e60012" stroke-width="1.7"/>
<path d="M190.2,131.3v5.0M188.0,133.8h4.4M191.6,133.2v5.0M189.4,135.7h4.4M193.9,136.6v5.0M191.7,139.1h4.4M195.3,138.5v5.0M193.1,141.0h4.4M196.9,140.7v5.0M194.7,143.2h4.4M198.0,142.1v5.0M195.8,144.6h4.4M198.9,143.6v5.0M196.7,146.1h4.4M202.8,150.0v5.0M200.6,152.5h4.4M203.6,152.1v5.0M201.4,154.6h4.4M209.5,158.0v5.0M207.3,160.5h4.4M211.2,160.5v5.0M209.0,163.0h4.4M212.8,162.2v5.0M210.6,164.7h4.4M215.1,165.8v5.0M212.9,168.3h4.4M219.6,173.2v5.0M217.4,175.7h4.4M219.4,174.4v5.0M217.2,176.9h4.4M220.9,175.6v5.0M218.7,178.1h4.4M221.4,176.6v5.0M219.2,179.1h4.4M223.0,180.0v5.0M220.8,182.5h4.4M223.9,181.6v5.0M221.7,184.1h4.4M225.8,184.4v5.0M223.6,186.9h4.4M227.6,186.0v5.0M225.4,188.5h4.4M230.3,188.2v5.0M228.1,190.7h4.4M232.3,189.7v5.0M230.1,192.2h4.4M233.7,190.8v5.0M231.5,193.3h4.4M235.3,192.2v5.0M233.1,194.7h4.4M238.0,196.5v5.0M235.8,199.0h4.4M239.5,201.5v5.0M237.3,204.0h4.4M242.0,205.2v5.0M239.8,207.7h4.4M246.6,207.8v5.0M244.4,210.3h4.4M248.5,209.1v5.0M246.3,211.6h4.4M250.7,211.0v5.0M248.5,213.5h4.4M253.8,214.1v5.0M251.6,216.6h4.4M255.7,215.8v5.0M253.5,218.3h4.4M260.6,221.4v5.0M258.4,223.9h4.4M261.3,224.0v5.0M259.1,226.5h4.4M265.8,228.0v5.0M263.6,230.5h4.4M269.3,231.7v5.0M267.1,234.2h4.4M270.4,233.2v5.0M268.2,235.7h4.4M272.3,235.0v5.0M270.1,237.5h4.4M273.5,235.6v5.0M271.3,238.1h4.4M278.7,240.3v5.0M276.5,242.8h4.4M280.4,241.7v5.0M278.2,244.2h4.4M282.2,244.6v5.0M280.0,247.1h4.4M284.8,246.7v5.0M282.6,249.2h4.4M287.7,250.0v5.0M285.5,252.5h4.4M289.0,252.3v5.0M286.8,254.8h4.4M290.3,253.4v5.0M288.1,255.9h4.4M294.8,257.6v5.0M292.6,260.1h4.4M299.1,259.0v5.0M296.9,261.5h4.4M300.5,260.1v5.0M298.3,262.6h4.4M306.9,259.9v5.0M304.7,262.4h4.4M310.5,263.5v5.0M308.3,266.0h4.4M311.6,264.9v5.0M309.4,267.4h4.4M312.7,265.6v5.0M310.5,268.1h4.4M315.8,266.4v5.0M313.6,268.9h4.4M318.4,267.1v5.0M316.2,269.6h4.4M324.8,269.9v5.0M322.6,272.4h4.4M328.2,273.2v5.0M326.0,275.7h4.4M333.4,277.2v5.0M331.2,279.7h4.4M335.5,278.7v5.0M333.3,281.2h4.4M338.4,280.0v5.0M336.2,282.5h4.4M340.1,280.4v5.0M337.9,282.9h4.4M342.8,281.9v5.0M340.6,284.4h4.4M344.3,283.0v5.0M342.1,285.5h4.4" stroke="#136a55" stroke-width="1.0" fill="none"/>
<path d="M136.3,51.8v4.0M134.6,53.8h3.4M363.0,295.7v4.0M361.3,297.7h3.4M365.5,295.7v4.0M363.8,297.7h3.4M368.0,295.7v4.0M366.3,297.7h3.4M370.5,295.7v4.0M368.8,297.7h3.4M373.0,295.7v4.0M371.3,297.7h3.4M376.0,295.7v4.0M374.3,297.7h3.4M378.5,295.7v4.0M376.8,297.7h3.4M383.0,306.6v4.0M381.3,308.6h3.4M386.0,306.6v4.0M384.3,308.6h3.4M389.0,306.6v4.0M387.3,308.6h3.4M391.0,306.6v4.0M389.3,308.6h3.4M420.0,346.2v4.0M418.3,348.2h3.4M421.5,346.2v4.0M419.8,348.2h3.4M439.7,346.2v4.0M438.0,348.2h3.4M357.0,292.7v4.0M355.3,294.7h3.4" stroke="#136a55" stroke-width="1.3" fill="none"/>
<path d="M211.8,172.5v4.6M209.9,174.8h3.8M226.3,185.0v4.6M224.4,187.3h3.8M232.5,185.0v4.6M230.6,187.3h3.8M238.3,185.0v4.6M236.4,187.3h3.8M239.7,185.0v4.6M237.8,187.3h3.8M258.3,185.0v4.6M256.4,187.3h3.8M276.9,204.5v4.6M275.0,206.8h3.8M280.4,204.5v4.6M278.5,206.8h3.8M304.1,256.5v4.6M302.2,258.8h3.8M382.7,352.7v4.6M380.8,355.0h3.8" stroke="#184b8e" stroke-width="1.3" fill="none"/>
<path d="M208.6,203.0v4.6M206.7,205.3h3.8M262.4,239.6v4.6M260.5,241.9h3.8M296.8,287.9v4.6M294.9,290.2h3.8M344.0,287.9v4.6M342.1,290.2h3.8" stroke="#e60012" stroke-width="1.3" fill="none"/>
<path d="M515.7,78.9v5.0M513.5,81.4h4.4M518.4,79.4v5.0M516.2,81.9h4.4M518.9,80.9v5.0M516.7,83.4h4.4M520.5,82.5v5.0M518.3,85.0h4.4M527.3,90.1v5.0M525.1,92.6h4.4M530.1,92.2v5.0M527.9,94.7h4.4M533.0,93.7v5.0M530.8,96.2h4.4M536.6,97.7v5.0M534.4,100.2h4.4M537.6,99.1v5.0M535.4,101.6h4.4M544.1,103.5v5.0M541.9,106.0h4.4M545.5,105.0v5.0M543.3,107.5h4.4M553.6,113.7v5.0M551.4,116.2h4.4M555.7,117.3v5.0M553.5,119.8h4.4M556.7,119.2v5.0M554.5,121.7h4.4M559.1,120.9v5.0M556.9,123.4h4.4M560.2,123.5v5.0M558.0,126.0h4.4M561.5,124.4v5.0M559.3,126.9h4.4M562.6,126.9v5.0M560.4,129.4h4.4M563.6,128.9v5.0M561.4,131.4h4.4M571.2,135.6v5.0M569.0,138.1h4.4M572.8,136.9v5.0M570.6,139.4h4.4M573.8,137.6v5.0M571.6,140.1h4.4M577.2,141.5v5.0M575.0,144.0h4.4M577.6,142.5v5.0M575.4,145.0h4.4M580.3,144.7v5.0M578.1,147.2h4.4M582.5,145.7v5.0M580.3,148.2h4.4M588.2,149.3v5.0M586.0,151.8h4.4M588.9,150.6v5.0M586.7,153.1h4.4M590.4,151.1v5.0M588.2,153.6h4.4M592.1,151.9v5.0M589.9,154.4h4.4M594.7,153.5v5.0M592.5,156.0h4.4M596.7,154.4v5.0M594.5,156.9h4.4M597.7,154.9v5.0M595.5,157.4h4.4M600.0,158.0v5.0M597.8,160.5h4.4M602.0,160.5v5.0M599.8,163.0h4.4M604.3,164.3v5.0M602.1,166.8h4.4M606.3,165.3v5.0M604.1,167.8h4.4M608.0,166.3v5.0M605.8,168.8h4.4M609.9,168.1v5.0M607.7,170.6h4.4M611.7,171.2v5.0M609.5,173.7h4.4M621.8,178.9v5.0M619.6,181.4h4.4M623.1,180.2v5.0M620.9,182.7h4.4M625.8,184.6v5.0M623.6,187.1h4.4M627.5,186.1v5.0M625.3,188.6h4.4M631.1,187.2v5.0M628.9,189.7h4.4M632.2,188.1v5.0M630.0,190.6h4.4M636.6,189.7v5.0M634.4,192.2h4.4M638.4,191.2v5.0M636.2,193.7h4.4M639.8,196.4v5.0M637.6,198.9h4.4M642.7,204.0v5.0M640.5,206.5h4.4M644.3,204.7v5.0M642.1,207.2h4.4M645.4,206.6v5.0M643.2,209.1h4.4M654.1,215.4v5.0M651.9,217.9h4.4M657.8,218.8v5.0M655.6,221.3h4.4M663.1,222.1v5.0M660.9,224.6h4.4M667.7,224.7v5.0M665.5,227.2h4.4M670.7,226.7v5.0M668.5,229.2h4.4M671.3,229.1v5.0M669.1,231.6h4.4M672.8,230.7v5.0M670.6,233.2h4.4M673.1,232.2v5.0M670.9,234.7h4.4M674.2,234.4v5.0M672.0,236.9h4.4M674.7,235.3v5.0M672.5,237.8h4.4" stroke="#136a55" stroke-width="1.0" fill="none"/>
<path d="M483.4,51.8v4.0M481.7,53.8h3.4M676.0,236.8v4.0M674.3,238.8h3.4M678.5,236.8v4.0M676.8,238.8h3.4M681.0,236.8v4.0M679.3,238.8h3.4M683.3,236.8v4.0M681.6,238.8h3.4M688.0,242.0v4.0M686.3,244.0h3.4M691.0,242.0v4.0M689.3,244.0h3.4M694.0,242.0v4.0M692.3,244.0h3.4M697.0,242.0v4.0M695.3,244.0h3.4M699.5,242.0v4.0M697.8,244.0h3.4M714.0,278.9v4.0M712.3,280.9h3.4M716.5,278.9v4.0M714.8,280.9h3.4M719.0,278.9v4.0M717.3,280.9h3.4M735.7,300.4v4.0M734.0,302.4h3.4M744.4,300.4v4.0M742.7,302.4h3.4M758.0,342.8v4.0M756.3,344.8h3.4M664.0,223.5v4.0M662.3,225.5h3.4M667.0,225.0v4.0M665.3,227.0h3.4" stroke="#136a55" stroke-width="1.3" fill="none"/>
<path d="M527.8,71.2v4.6M525.9,73.5h3.8M534.0,82.2v4.6M532.1,84.5h3.8M541.3,93.3v4.6M539.4,95.6h3.8M547.4,93.3v4.6M545.5,95.6h3.8M548.5,93.3v4.6M546.6,95.6h3.8M557.8,93.3v4.6M555.9,95.6h3.8M562.5,93.3v4.6M560.6,95.6h3.8M568.1,93.3v4.6M566.2,95.6h3.8M570.2,93.3v4.6M568.3,95.6h3.8M589.2,111.4v4.6M587.3,113.7h3.8M594.4,111.4v4.6M592.5,113.7h3.8M600.2,111.4v4.6M598.3,113.7h3.8M603.3,136.6v4.6M601.4,138.9h3.8M608.9,136.6v4.6M607.0,138.9h3.8M622.7,136.6v4.6M620.8,138.9h3.8M644.0,171.7v4.6M642.1,174.0h3.8M647.1,171.7v4.6M645.2,174.0h3.8M687.1,278.3v4.6M685.2,280.6h3.8M703.0,278.3v4.6M701.1,280.6h3.8" stroke="#184b8e" stroke-width="1.3" fill="none"/>
<path d="M542.9,112.1v4.6M541.0,114.4h3.8M577.3,180.0v4.6M575.4,182.3h3.8M587.2,221.5v4.6M585.3,223.8h3.8M617.1,221.5v4.6M615.2,223.8h3.8M656.2,303.2v4.6M654.3,305.5h3.8" stroke="#e60012" stroke-width="1.3" fill="none"/>
<path d="M883.6,131.3v5.0M881.4,133.8h4.4M885.0,133.2v5.0M882.8,135.7h4.4M887.3,136.6v5.0M885.1,139.1h4.4M888.7,138.5v5.0M886.5,141.0h4.4M890.3,140.7v5.0M888.1,143.2h4.4M891.4,142.1v5.0M889.2,144.6h4.4M892.3,143.6v5.0M890.1,146.1h4.4M896.2,150.0v5.0M894.0,152.5h4.4M897.0,152.1v5.0M894.8,154.6h4.4M902.9,158.0v5.0M900.7,160.5h4.4M904.6,160.5v5.0M902.4,163.0h4.4M906.2,162.2v5.0M904.0,164.7h4.4M908.5,165.8v5.0M906.3,168.3h4.4M913.0,173.2v5.0M910.8,175.7h4.4M912.8,174.4v5.0M910.6,176.9h4.4M914.3,175.6v5.0M912.1,178.1h4.4M914.8,176.6v5.0M912.6,179.1h4.4M916.4,180.0v5.0M914.2,182.5h4.4M917.3,181.6v5.0M915.1,184.1h4.4M919.2,184.4v5.0M917.0,186.9h4.4M921.0,186.0v5.0M918.8,188.5h4.4M923.7,188.2v5.0M921.5,190.7h4.4M925.7,189.7v5.0M923.5,192.2h4.4M927.1,190.8v5.0M924.9,193.3h4.4M928.7,192.2v5.0M926.5,194.7h4.4M931.4,196.5v5.0M929.2,199.0h4.4M932.9,201.5v5.0M930.7,204.0h4.4M935.4,205.2v5.0M933.2,207.7h4.4M940.0,207.8v5.0M937.8,210.3h4.4M941.9,209.1v5.0M939.7,211.6h4.4M944.1,211.0v5.0M941.9,213.5h4.4M947.2,214.1v5.0M945.0,216.6h4.4M949.1,215.8v5.0M946.9,218.3h4.4M954.0,221.4v5.0M951.8,223.9h4.4M954.7,224.0v5.0M952.5,226.5h4.4M959.2,228.0v5.0M957.0,230.5h4.4M962.7,231.7v5.0M960.5,234.2h4.4M963.8,233.2v5.0M961.6,235.7h4.4M965.7,235.0v5.0M963.5,237.5h4.4M966.9,235.6v5.0M964.7,238.1h4.4M972.1,240.3v5.0M969.9,242.8h4.4M973.8,241.7v5.0M971.6,244.2h4.4M975.6,244.6v5.0M973.4,247.1h4.4M978.2,246.7v5.0M976.0,249.2h4.4M981.1,250.0v5.0M978.9,252.5h4.4M982.4,252.3v5.0M980.2,254.8h4.4M983.7,253.4v5.0M981.5,255.9h4.4M988.2,257.6v5.0M986.0,260.1h4.4M992.5,259.0v5.0M990.3,261.5h4.4M993.9,260.1v5.0M991.7,262.6h4.4M1000.3,259.9v5.0M998.1,262.4h4.4M1003.9,263.5v5.0M1001.7,266.0h4.4M1005.0,264.9v5.0M1002.8,267.4h4.4M1006.1,265.6v5.0M1003.9,268.1h4.4M1009.2,266.4v5.0M1007.0,268.9h4.4M1011.8,267.1v5.0M1009.6,269.6h4.4M1018.2,269.9v5.0M1016.0,272.4h4.4M1021.6,273.2v5.0M1019.4,275.7h4.4M1026.8,277.2v5.0M1024.6,279.7h4.4M1028.9,278.7v5.0M1026.7,281.2h4.4M1031.8,280.0v5.0M1029.6,282.5h4.4M1033.5,280.4v5.0M1031.3,282.9h4.4M1036.2,281.9v5.0M1034.0,284.4h4.4M1037.7,283.0v5.0M1035.5,285.5h4.4" stroke="#136a55" stroke-width="1.0" fill="none"/>
<path d="M829.7,51.8v4.0M828.0,53.8h3.4M1056.4,295.7v4.0M1054.7,297.7h3.4M1058.9,295.7v4.0M1057.2,297.7h3.4M1061.4,295.7v4.0M1059.7,297.7h3.4M1063.9,295.7v4.0M1062.2,297.7h3.4M1066.4,295.7v4.0M1064.7,297.7h3.4M1069.4,295.7v4.0M1067.7,297.7h3.4M1071.9,295.7v4.0M1070.2,297.7h3.4M1076.4,306.6v4.0M1074.7,308.6h3.4M1079.4,306.6v4.0M1077.7,308.6h3.4M1082.4,306.6v4.0M1080.7,308.6h3.4M1084.4,306.6v4.0M1082.7,308.6h3.4M1113.4,346.2v4.0M1111.7,348.2h3.4M1114.9,346.2v4.0M1113.2,348.2h3.4M1133.1,346.2v4.0M1131.4,348.2h3.4M1050.4,292.7v4.0M1048.7,294.7h3.4" stroke="#136a55" stroke-width="1.3" fill="none"/>
<path d="M900.7,164.9v4.6M898.8,167.2h3.8M902.7,164.9v4.6M900.8,167.2h3.8M919.2,174.8v4.6M917.3,177.1h3.8M924.4,174.8v4.6M922.5,177.1h3.8M931.6,185.9v4.6M929.7,188.2h3.8M934.7,185.9v4.6M932.8,188.2h3.8M951.3,185.9v4.6M949.4,188.2h3.8M954.4,185.9v4.6M952.5,188.2h3.8M970.9,201.0v4.6M969.0,203.3h3.8M975.0,201.0v4.6M973.1,203.3h3.8M990.6,238.0v4.6M988.7,240.3h3.8M997.2,259.0v4.6M995.3,261.3h3.8M1075.8,351.7v4.6M1073.9,354.0h3.8" stroke="#184b8e" stroke-width="1.3" fill="none"/>
<path d="M1209.2,78.9v5.0M1207.0,81.4h4.4M1211.9,79.4v5.0M1209.7,81.9h4.4M1212.4,80.9v5.0M1210.2,83.4h4.4M1214.0,82.5v5.0M1211.8,85.0h4.4M1220.8,90.1v5.0M1218.6,92.6h4.4M1223.6,92.2v5.0M1221.4,94.7h4.4M1226.5,93.7v5.0M1224.3,96.2h4.4M1230.1,97.7v5.0M1227.9,100.2h4.4M1231.1,99.1v5.0M1228.9,101.6h4.4M1237.6,103.5v5.0M1235.4,106.0h4.4M1239.0,105.0v5.0M1236.8,107.5h4.4M1247.1,113.7v5.0M1244.9,116.2h4.4M1249.2,117.3v5.0M1247.0,119.8h4.4M1250.2,119.2v5.0M1248.0,121.7h4.4M1252.6,120.9v5.0M1250.4,123.4h4.4M1253.7,123.5v5.0M1251.5,126.0h4.4M1255.0,124.4v5.0M1252.8,126.9h4.4M1256.1,126.9v5.0M1253.9,129.4h4.4M1257.1,128.9v5.0M1254.9,131.4h4.4M1264.7,135.6v5.0M1262.5,138.1h4.4M1266.3,136.9v5.0M1264.1,139.4h4.4M1267.3,137.6v5.0M1265.1,140.1h4.4M1270.7,141.5v5.0M1268.5,144.0h4.4M1271.1,142.5v5.0M1268.9,145.0h4.4M1273.8,144.7v5.0M1271.6,147.2h4.4M1276.0,145.7v5.0M1273.8,148.2h4.4M1281.7,149.3v5.0M1279.5,151.8h4.4M1282.4,150.6v5.0M1280.2,153.1h4.4M1283.9,151.1v5.0M1281.7,153.6h4.4M1285.6,151.9v5.0M1283.4,154.4h4.4M1288.2,153.5v5.0M1286.0,156.0h4.4M1290.2,154.4v5.0M1288.0,156.9h4.4M1291.2,154.9v5.0M1289.0,157.4h4.4M1293.5,158.0v5.0M1291.3,160.5h4.4M1295.5,160.5v5.0M1293.3,163.0h4.4M1297.8,164.3v5.0M1295.6,166.8h4.4M1299.8,165.3v5.0M1297.6,167.8h4.4M1301.5,166.3v5.0M1299.3,168.8h4.4M1303.4,168.1v5.0M1301.2,170.6h4.4M1305.2,171.2v5.0M1303.0,173.7h4.4M1315.3,178.9v5.0M1313.1,181.4h4.4M1316.6,180.2v5.0M1314.4,182.7h4.4M1319.3,184.6v5.0M1317.1,187.1h4.4M1321.0,186.1v5.0M1318.8,188.6h4.4M1324.6,187.2v5.0M1322.4,189.7h4.4M1325.7,188.1v5.0M1323.5,190.6h4.4M1330.1,189.7v5.0M1327.9,192.2h4.4M1331.9,191.2v5.0M1329.7,193.7h4.4M1333.3,196.4v5.0M1331.1,198.9h4.4M1336.2,204.0v5.0M1334.0,206.5h4.4M1337.8,204.7v5.0M1335.6,207.2h4.4M1338.9,206.6v5.0M1336.7,209.1h4.4M1347.6,215.4v5.0M1345.4,217.9h4.4M1351.3,218.8v5.0M1349.1,221.3h4.4M1356.6,222.1v5.0M1354.4,224.6h4.4M1361.2,224.7v5.0M1359.0,227.2h4.4M1364.2,226.7v5.0M1362.0,229.2h4.4M1364.8,229.1v5.0M1362.6,231.6h4.4M1366.3,230.7v5.0M1364.1,233.2h4.4M1366.6,232.2v5.0M1364.4,234.7h4.4M1367.7,234.4v5.0M1365.5,236.9h4.4M1368.2,235.3v5.0M1366.0,237.8h4.4" stroke="#136a55" stroke-width="1.0" fill="none"/>
<path d="M1176.9,51.8v4.0M1175.2,53.8h3.4M1369.5,236.8v4.0M1367.8,238.8h3.4M1372.0,236.8v4.0M1370.3,238.8h3.4M1374.5,236.8v4.0M1372.8,238.8h3.4M1376.8,236.8v4.0M1375.1,238.8h3.4M1381.5,242.0v4.0M1379.8,244.0h3.4M1384.5,242.0v4.0M1382.8,244.0h3.4M1387.5,242.0v4.0M1385.8,244.0h3.4M1390.5,242.0v4.0M1388.8,244.0h3.4M1393.0,242.0v4.0M1391.3,244.0h3.4M1407.5,278.9v4.0M1405.8,280.9h3.4M1410.0,278.9v4.0M1408.3,280.9h3.4M1412.5,278.9v4.0M1410.8,280.9h3.4M1429.2,300.4v4.0M1427.5,302.4h3.4M1437.9,300.4v4.0M1436.2,302.4h3.4M1451.5,342.8v4.0M1449.8,344.8h3.4M1357.5,223.5v4.0M1355.8,225.5h3.4M1360.5,225.0v4.0M1358.8,227.0h3.4" stroke="#136a55" stroke-width="1.3" fill="none"/>
<path d="M1242.0,103.2v4.6M1240.1,105.5h3.8M1251.4,103.2v4.6M1249.5,105.5h3.8M1255.5,103.2v4.6M1253.6,105.5h3.8M1260.7,103.2v4.6M1258.8,105.5h3.8M1263.8,103.2v4.6M1261.9,105.5h3.8M1271.0,103.2v4.6M1269.1,105.5h3.8M1281.3,116.9v4.6M1279.4,119.2h3.8M1284.4,116.9v4.6M1282.5,119.2h3.8M1287.9,116.9v4.6M1286.0,119.2h3.8M1294.1,116.9v4.6M1292.2,119.2h3.8M1296.8,136.6v4.6M1294.9,138.9h3.8M1302.0,136.6v4.6M1300.1,138.9h3.8M1310.2,136.6v4.6M1308.3,138.9h3.8M1316.4,136.6v4.6M1314.5,138.9h3.8M1337.0,164.0v4.6M1335.1,166.3h3.8M1341.2,195.7v4.6M1339.3,198.0h3.8M1349.5,195.7v4.6M1347.6,198.0h3.8M1380.4,290.2v4.6M1378.5,292.5h3.8M1395.9,290.2v4.6M1394.0,292.5h3.8M1222.0,74.7v4.6M1220.1,77.0h3.8M1233.3,92.3v4.6M1231.4,94.6h3.8" stroke="#184b8e" stroke-width="1.3" fill="none"/>
<line x1="134.0" y1="220.6" x2="291.6" y2="220.6" stroke="#000" stroke-width="2.8" stroke-dasharray="9.7 8.45"/>
<line x1="234.5" y1="388.0" x2="234.5" y2="220.6" stroke="#000" stroke-width="2.8" stroke-dasharray="9.3 8.8"/>
<line x1="258.7" y1="388.0" x2="258.7" y2="220.6" stroke="#000" stroke-width="2.8" stroke-dasharray="9.3 8.8"/>
<line x1="291.2" y1="388.0" x2="291.2" y2="220.6" stroke="#000" stroke-width="2.8" stroke-dasharray="9.3 8.8"/>
<line x1="480.7" y1="220.6" x2="658.6" y2="220.6" stroke="#000" stroke-width="2.8" stroke-dasharray="9.7 8.45"/>
<line x1="581.3" y1="388.0" x2="581.3" y2="220.6" stroke="#000" stroke-width="2.7" stroke-dasharray="9.3 8.8"/>
<line x1="657.3" y1="388.0" x2="657.3" y2="220.6" stroke="#000" stroke-width="4.2" stroke-dasharray="9.3 8.8"/>
<line x1="827.4" y1="220.6" x2="983.4" y2="220.6" stroke="#000" stroke-width="2.8" stroke-dasharray="9.7 8.45"/>
<line x1="867.7" y1="388.0" x2="867.7" y2="220.6" stroke="#000" stroke-width="2.8" stroke-dasharray="9.3 8.8"/>
<line x1="952.4" y1="388.0" x2="952.4" y2="220.6" stroke="#000" stroke-width="2.8" stroke-dasharray="9.3 8.8"/>
<line x1="982.9" y1="388.0" x2="982.9" y2="220.6" stroke="#000" stroke-width="2.8" stroke-dasharray="9.3 8.8"/>
<line x1="1174.2" y1="220.6" x2="1352.4" y2="220.6" stroke="#000" stroke-width="2.8" stroke-dasharray="9.7 8.45"/>
<line x1="1258.1" y1="388.0" x2="1258.1" y2="220.6" stroke="#000" stroke-width="2.8" stroke-dasharray="9.3 8.8"/>
<line x1="1351.2" y1="388.0" x2="1351.2" y2="220.6" stroke="#000" stroke-width="4.2" stroke-dasharray="9.3 8.8"/>
<line x1="11.0" y1="503.6" x2="35.2" y2="503.6" stroke="#136a55" stroke-width="4.3"/>
<text transform="translate(39.40,514.00) scale(1.0,1.04)" font-size="25.55" fill="#000" stroke="#000" stroke-width="0.35">No +1q</text>
<line x1="11.0" y1="534.6" x2="35.2" y2="534.6" stroke="#184b8e" stroke-width="4.3"/>
<text transform="translate(39.40,544.10) scale(1.0,1.04)" font-size="25.55" fill="#000" stroke="#000" stroke-width="0.35">+1q ≤20% &amp; With &lt;2 CAs</text>
<line x1="11.0" y1="566.0" x2="35.2" y2="566.0" stroke="#e60012" stroke-width="4.3"/>
<text transform="translate(39.40,574.90) scale(1.0,1.04)" font-size="25.55" fill="#000" stroke="#000" stroke-width="0.35">+1q ≤20% &amp; With ≥2 CAs</text>
<line x1="405.2" y1="503.6" x2="429.4" y2="503.6" stroke="#136a55" stroke-width="4.3"/>
<text transform="translate(433.80,514.00) scale(1.0,1.04)" font-size="25.55" fill="#000" stroke="#000" stroke-width="0.35">No +1q</text>
<line x1="405.2" y1="534.6" x2="429.4" y2="534.6" stroke="#184b8e" stroke-width="4.3"/>
<text transform="translate(433.80,544.10) scale(1.0,1.04)" font-size="25.55" fill="#000" stroke="#000" stroke-width="0.35">+1q ≤20% &amp; With &lt;2 CAs</text>
<line x1="405.2" y1="566.0" x2="429.4" y2="566.0" stroke="#e60012" stroke-width="4.3"/>
<text transform="translate(433.80,574.90) scale(1.0,1.04)" font-size="25.55" fill="#000" stroke="#000" stroke-width="0.35">+1q ≤20% &amp; With ≥2 CAs</text>
<line x1="803.6" y1="503.6" x2="827.8" y2="503.6" stroke="#136a55" stroke-width="4.3"/>
<text transform="translate(832.20,514.00) scale(1.0,1.04)" font-size="25.55" fill="#000" stroke="#000" stroke-width="0.35">No +1q</text>
<line x1="803.6" y1="534.6" x2="827.8" y2="534.6" stroke="#184b8e" stroke-width="4.3"/>
<text transform="translate(832.20,544.10) scale(1.0,1.04)" font-size="25.55" fill="#000" stroke="#000" stroke-width="0.35">+1q ≤20% &amp; No del(1p)</text>
<line x1="803.6" y1="566.0" x2="827.8" y2="566.0" stroke="#e60012" stroke-width="4.3"/>
<text transform="translate(832.20,574.90) scale(1.0,1.04)" font-size="25.55" fill="#000" stroke="#000" stroke-width="0.35">+1q ≤20% &amp; Del(1p)</text>
<line x1="1153.7" y1="503.6" x2="1177.9" y2="503.6" stroke="#136a55" stroke-width="4.3"/>
<text transform="translate(1181.90,514.00) scale(1.0,1.04)" font-size="25.55" fill="#000" stroke="#000" stroke-width="0.35">No +1q</text>
<line x1="1153.7" y1="534.6" x2="1177.9" y2="534.6" stroke="#184b8e" stroke-width="4.3"/>
<text transform="translate(1181.90,544.10) scale(1.0,1.04)" font-size="25.55" fill="#000" stroke="#000" stroke-width="0.35">+1q ≤20% &amp; No del(1p)</text>
<line x1="1153.7" y1="566.0" x2="1177.9" y2="566.0" stroke="#e60012" stroke-width="4.3"/>
<text transform="translate(1181.90,574.90) scale(1.0,1.04)" font-size="25.55" fill="#000" stroke="#000" stroke-width="0.35">+1q ≤20% &amp; Del(1p)</text>
<line x1="348.8" y1="503.3" x2="348.8" y2="533.0" stroke="#231815" stroke-width="1.6"/>
<line x1="348.8" y1="537.7" x2="348.8" y2="567.5" stroke="#231815" stroke-width="1.6"/>
<line x1="377.7" y1="503.3" x2="377.7" y2="567.5" stroke="#231815" stroke-width="1.6"/>
<text transform="translate(352.60,518.00) rotate(90)" font-size="15.6" text-anchor="middle" fill="#231815" stroke="#231815" stroke-width="0.3">NS</text>
<text transform="translate(352.60,554.50) rotate(90)" font-size="15.6" text-anchor="middle" fill="#231815" stroke="#231815" stroke-width="0.3">NS</text>
<text transform="translate(384.80,537.50) rotate(90)" font-size="15.6" text-anchor="middle" fill="#231815" stroke="#231815" stroke-width="0.3">NS</text>
<line x1="743.2" y1="503.3" x2="743.2" y2="533.0" stroke="#231815" stroke-width="1.6"/>
<line x1="743.2" y1="537.7" x2="743.2" y2="567.5" stroke="#231815" stroke-width="1.6"/>
<line x1="772.2" y1="503.3" x2="772.2" y2="567.5" stroke="#231815" stroke-width="1.6"/>
<text transform="translate(747.00,518.00) rotate(90)" font-size="15.6" text-anchor="middle" fill="#231815" stroke="#231815" stroke-width="0.3">NS</text>
<text transform="translate(744.10,551.50) rotate(90)" font-size="23.5" letter-spacing="0.9" text-anchor="middle" fill="#231815" stroke="#231815" stroke-width="0.55">*</text>
<text transform="translate(779.40,537.50) rotate(90)" font-size="15.6" text-anchor="middle" fill="#231815" stroke="#231815" stroke-width="0.3">NS</text>
<line x1="1103.3" y1="507.6" x2="1103.3" y2="536.9" stroke="#231815" stroke-width="1.6"/>
<line x1="1103.3" y1="542.0" x2="1103.3" y2="571.6" stroke="#231815" stroke-width="1.6"/>
<line x1="1131.9" y1="507.6" x2="1131.9" y2="571.6" stroke="#231815" stroke-width="1.6"/>
<text transform="translate(1107.40,522.00) rotate(90)" font-size="15.6" text-anchor="middle" fill="#231815" stroke="#231815" stroke-width="0.3">NS</text>
<text transform="translate(1104.20,557.30) rotate(90)" font-size="23.5" letter-spacing="0.9" text-anchor="middle" fill="#231815" stroke="#231815" stroke-width="0.55">***</text>
<text transform="translate(1134.10,542.50) rotate(90)" font-size="23.5" letter-spacing="0.9" text-anchor="middle" fill="#231815" stroke="#231815" stroke-width="0.55">***</text>
<line x1="1453.0" y1="507.6" x2="1453.0" y2="536.9" stroke="#231815" stroke-width="1.6"/>
<line x1="1453.0" y1="542.0" x2="1453.0" y2="571.6" stroke="#231815" stroke-width="1.6"/>
<line x1="1481.8" y1="507.6" x2="1481.8" y2="571.6" stroke="#231815" stroke-width="1.6"/>
<text transform="translate(1457.10,522.00) rotate(90)" font-size="15.6" text-anchor="middle" fill="#231815" stroke="#231815" stroke-width="0.3">NS</text>
<text transform="translate(1453.90,557.30) rotate(90)" font-size="23.5" letter-spacing="0.9" text-anchor="middle" fill="#231815" stroke="#231815" stroke-width="0.55">***</text>
<text transform="translate(1484.00,542.50) rotate(90)" font-size="23.5" letter-spacing="0.9" text-anchor="middle" fill="#231815" stroke="#231815" stroke-width="0.55">***</text>
</svg></body></html>
